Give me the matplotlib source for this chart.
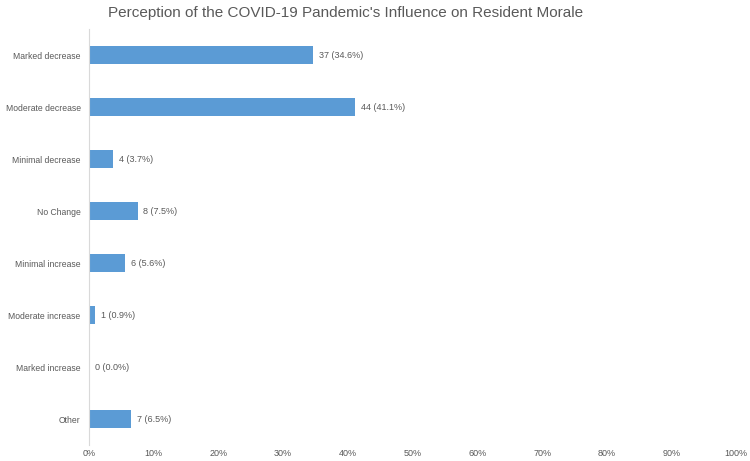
import matplotlib.pyplot as plt
from matplotlib.ticker import PercentFormatter

categorias = ["Marked decrease", "Moderate decrease", "Minimal decrease", "No Change",
              "Minimal increase", "Moderate increase", "Marked increase", "Other"]
conteos = [37, 44, 4, 8, 6, 1, 0, 7]
porcentajes = [34.6, 41.1, 3.7, 7.5, 5.6, 0.9, 0.0, 6.5]
ticks_x = [0, 10, 20, 30, 40, 50, 60, 70, 80, 90, 100]

plt.rcParams['font.family'] = ['Liberation Sans', 'DejaVu Sans']
gris = "#595959"

fig = plt.figure(figsize=(7.5, 4.61), dpi=100)
ax = fig.add_axes([0.1187, 0.0347, 0.863, 0.902])

pos = list(range(len(categorias)))
ax.barh(pos, porcentajes, height=0.35, color="#5B9BD5")

# etiquetas de datos
for p, c, v in zip(pos, conteos, porcentajes):
    ax.text(v + 0.9, p, f"{c} ({v:.1f}%)", va="center", ha="left", fontsize=6.5, color=gris)

ax.set_ylim(len(categorias) - 0.5, -0.5)
ax.set_xlim(0, 100)
ax.set_yticks(pos)
ax.set_yticklabels(categorias, fontsize=6.2, color=gris)
ax.set_xticks(ticks_x)
ax.xaxis.set_major_formatter(PercentFormatter(decimals=0))
ax.tick_params(axis="x", length=0, labelsize=6.5, labelcolor=gris, pad=3)
ax.tick_params(axis="y", length=0, pad=6)

for lado in ["top", "right", "bottom"]:
    ax.spines[lado].set_visible(False)
ax.spines["left"].set_color("#D9D9D9")

fig.text(0.461, 0.972, "Perception of the COVID-19 Pandemic's Influence on Resident Morale",
         ha="center", va="center", fontsize=11, color=gris)

fig.savefig("out.png", dpi=100)
